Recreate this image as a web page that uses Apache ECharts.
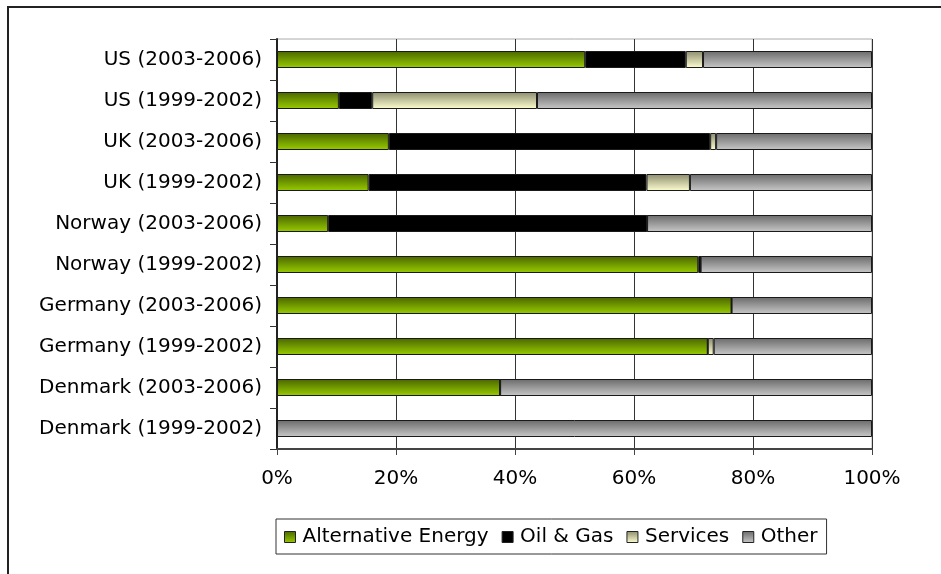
<!DOCTYPE html>
<html>
<head>
<meta charset="utf-8">
<script src="https://cdn.jsdelivr.net/npm/echarts@6/dist/echarts.min.js"></script>
<style>
  html, body { margin: 0; padding: 0; background: #fff; }
  .wrap { position: relative; width: 941px; height: 574px; overflow: hidden; }
  .frame {
    position: absolute; left: 7px; top: 6px; right: -10px; bottom: -10px;
    border-left: 2px solid #222; border-top: 2px solid #222;
  }
  #chart { position: absolute; left: 0; top: 0; width: 941px; height: 574px; }
</style>
</head>
<body>
<div class="wrap">
  <div class="frame"></div>
  <div id="chart"></div>
</div>
<script>
// categories, top to bottom
const categories = [
  "US (2003-2006)", "US (1999-2002)", "UK (2003-2006)", "UK (1999-2002)",
  "Norway (2003-2006)", "Norway (1999-2002)", "Germany (2003-2006)",
  "Germany (1999-2002)", "Denmark (2003-2006)", "Denmark (1999-2002)"
];
const altEnergy = [51.8, 10.4, 18.8, 15.4, 8.6, 70.8, 76.4, 72.4, 37.5, 0];
const oilGas    = [16.9, 5.6, 54.0, 46.7, 53.6, 0.4, 0, 0, 0, 0];
const services  = [2.9, 27.7, 1.0, 7.3, 0, 0, 0, 1.0, 0, 0];
const other     = [28.4, 56.3, 26.2, 30.6, 37.8, 28.8, 23.6, 26.6, 62.5, 100];
const tickLabels = ["0%", "20%", "40%", "60%", "80%", "100%"];

const font = "DejaVu Sans";
function grad(top, bottom) {
  return new echarts.graphic.LinearGradient(0, 0, 0, 1, [
    { offset: 0, color: top },
    { offset: 1, color: bottom }
  ]);
}
function bar(name, data, color) {
  return {
    name: name,
    type: "bar",
    stack: "all",
    barWidth: 17,
    data: data,
    itemStyle: { color: color, borderColor: "#1a1a1a", borderWidth: 1 },
    emphasis: { disabled: true }
  };
}

const myChart = echarts.init(document.getElementById("chart"));
const option = {
  animation: false,
  textStyle: { fontFamily: font },
  grid: { left: 277, right: 69, top: 39, bottom: 125 },
  legend: {
    top: 519,
    left: 276,
    icon: "rect",
    itemWidth: 11,
    itemHeight: 11,
    itemGap: 13,
    padding: [8, 9, 7, 8],
    borderColor: "#333",
    borderWidth: 1,
    textStyle: { fontFamily: font, fontSize: 20, color: "#000", padding: [0, 0, 0, 2] },
    itemStyle: { borderColor: "#222", borderWidth: 1 }
  },
  xAxis: {
    type: "value",
    min: 0,
    max: 100,
    interval: 20,
    axisLine: { show: true, lineStyle: { color: "#444", width: 2 } },
    axisTick: { show: true, length: 6, lineStyle: { color: "#444" } },
    axisLabel: {
      fontFamily: font, fontSize: 20, color: "#000", margin: 20,
      formatter: (v) => tickLabels[v / 20]
    },
    splitLine: { show: true, lineStyle: { color: "#333", width: 1 } }
  },
  yAxis: {
    type: "category",
    inverse: true,
    data: categories,
    axisLine: { show: true, lineStyle: { color: "#222", width: 2 } },
    axisTick: { show: true, length: 7, lineStyle: { color: "#333" } },
    axisLabel: { fontFamily: font, fontSize: 20, color: "#000", margin: 15 },
    splitLine: { show: false }
  },
  graphic: [{
    type: "rect",
    shape: { x: 277, y: 39, width: 595, height: 410 },
    style: { fill: "none", stroke: "#aaa", lineWidth: 1 },
    silent: true,
    z: -1
  }],
  series: [
    bar("Alternative Energy", altEnergy, grad("#4a6600", "#99cc00")),
    bar("Oil & Gas", oilGas, "#000000"),
    bar("Services", services, grad("#8c8c70", "#ffffd0")),
    bar("Other", other, grad("#6a6a6a", "#c8c8c8"))
  ]
};
myChart.setOption(option);
window.addEventListener("resize", () => {
  myChart.resize();
});
</script>
</body>
</html>
